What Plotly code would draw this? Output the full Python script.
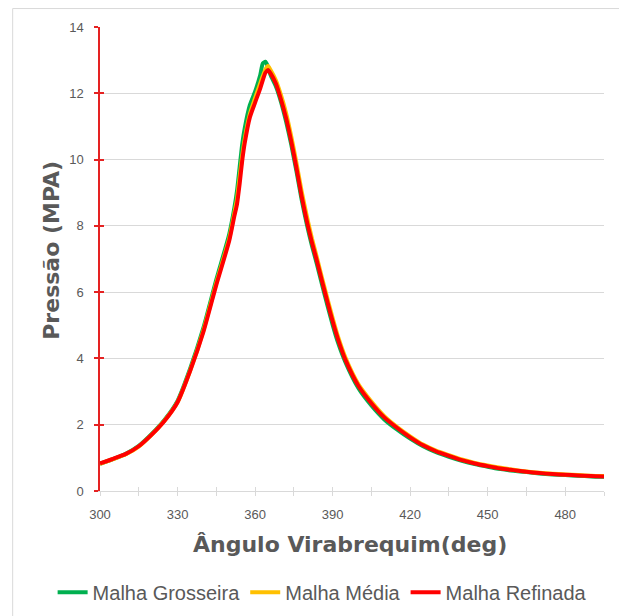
import plotly.graph_objects as go

# Crank angle (degrees) at which pressure was sampled
angle = [300, 305, 310, 315, 320, 325, 330, 335, 340, 345, 350, 352, 353, 354, 355,
         356, 358, 360, 362, 363, 364, 365, 366, 368, 370, 372, 374, 376, 378, 380,
         382, 384, 386, 388, 390, 392, 395, 400, 405, 410, 415, 420, 425, 430, 435,
         440, 445, 450, 455, 460, 465, 470, 475, 480, 485, 490, 495]

# Cylinder pressure (MPa) for each mesh refinement level
p_grosseira = [0.82, 0.96, 1.12, 1.36, 1.72, 2.15, 2.72, 3.72, 4.92, 6.38, 7.75, 8.55, 9.05, 9.75, 10.45,
               10.95, 11.65, 12.05, 12.55, 12.90, 12.95, 12.80, 12.55, 12.22, 11.75, 11.15, 10.45, 9.65, 8.80, 8.05,
               7.40, 6.82, 6.20, 5.60, 5.02, 4.50, 3.88, 3.10, 2.58, 2.16, 1.85, 1.58, 1.35, 1.17, 1.03,
               0.91, 0.81, 0.73, 0.66, 0.61, 0.57, 0.53, 0.50, 0.48, 0.46, 0.44, 0.43]

p_media = [0.82, 0.96, 1.11, 1.34, 1.70, 2.13, 2.68, 3.66, 4.84, 6.28, 7.62, 8.40, 8.80, 9.45, 10.10,
           10.62, 11.38, 11.85, 12.30, 12.52, 12.72, 12.82, 12.70, 12.40, 11.95, 11.40, 10.70, 9.90, 9.05, 8.30,
           7.62, 7.02, 6.40, 5.80, 5.22, 4.68, 4.02, 3.22, 2.70, 2.26, 1.93, 1.65, 1.40, 1.22, 1.08,
           0.95, 0.85, 0.77, 0.70, 0.64, 0.59, 0.55, 0.52, 0.50, 0.48, 0.46, 0.45]

p_refinada = [0.83, 0.97, 1.12, 1.35, 1.70, 2.12, 2.68, 3.65, 4.80, 6.22, 7.55, 8.30, 8.65, 9.25, 9.95,
              10.50, 11.28, 11.72, 12.15, 12.40, 12.62, 12.70, 12.60, 12.30, 11.82, 11.25, 10.55, 9.75, 8.90, 8.15,
              7.50, 6.92, 6.30, 5.70, 5.12, 4.60, 3.95, 3.17, 2.65, 2.22, 1.90, 1.62, 1.38, 1.20, 1.06,
              0.93, 0.83, 0.75, 0.68, 0.63, 0.58, 0.54, 0.51, 0.49, 0.47, 0.45, 0.44]

series_names = ["Malha Grosseira", "Malha Média", "Malha Refinada"]
series_values = [p_grosseira, p_media, p_refinada]
series_colors = ["#00B050", "#FFC000", "#FF0000"]

x_range = [300, 495]
y_range = [0, 14]
x_tick_labels = [300, 330, 360, 390, 420, 450, 480]

TEXT = "#595959"
GRID = "#D9D9D9"
AXIS_RED = "#E52222"
TICK_FONT = dict(family="Liberation Sans, Arial, sans-serif", size=13, color=TEXT)
TITLE_FONT = dict(family="DejaVu Sans, Verdana, sans-serif", size=22, color=TEXT, weight="bold")

fig = go.Figure()

for name, values, color in zip(series_names, series_values, series_colors):
    fig.add_trace(go.Scatter(
        x=angle, y=values, name=name, mode="lines",
        line=dict(color=color, width=4, shape="spline", smoothing=0.6),
    ))

# empty trace that anchors the overlay axes used for the inward half of the crossing ticks
fig.add_trace(go.Scatter(x=[], y=[], xaxis="x2", yaxis="y2", showlegend=False, hoverinfo="skip"))

fig.update_layout(
    width=619, height=616,
    margin=dict(l=99.5, r=14.5, t=26.5, b=124.5, autoexpand=False),
    paper_bgcolor="white", plot_bgcolor="white",
    xaxis=dict(
        range=x_range, tickmode="array", tickvals=x_tick_labels,
        ticks="outside", ticklen=4, tickcolor=GRID, tickwidth=1,
        minor=dict(dtick=15, tick0=300, ticks="outside", ticklen=4, tickcolor=GRID, showgrid=False),
        showline=True, linecolor=GRID, linewidth=1,
        showgrid=False, zeroline=False,
        tickfont=TICK_FONT, ticklabelstandoff=7,
    ),
    xaxis2=dict(
        range=x_range, overlaying="x", anchor="y2", side="bottom",
        tickmode="linear", tick0=300, dtick=15,
        ticks="inside", ticklen=4, tickcolor=GRID, tickwidth=1,
        showticklabels=False, showgrid=False, showline=False, zeroline=False,
    ),
    yaxis=dict(
        range=y_range, dtick=2,
        ticks="outside", ticklen=4, tickcolor=AXIS_RED, tickwidth=1.5,
        showline=True, linecolor=AXIS_RED, linewidth=1.5,
        showgrid=True, gridcolor=GRID, gridwidth=1, zeroline=False,
        tickfont=TICK_FONT, ticklabelstandoff=8,
    ),
    yaxis2=dict(
        range=y_range, overlaying="y", anchor="x2", side="left",
        dtick=2, ticks="inside", ticklen=4, tickcolor=AXIS_RED, tickwidth=1.5,
        showticklabels=False, showgrid=False, showline=False, zeroline=False,
    ),
    legend=dict(
        orientation="h", x=-0.094, xanchor="left", y=-0.218, yanchor="middle",
        font=dict(family="Liberation Sans, Arial, sans-serif", size=20, color=TEXT),
        bgcolor="rgba(0,0,0,0)", itemwidth=30,
    ),
    annotations=[
        dict(text="Ângulo Virabrequim(deg)", xref="paper", yref="paper",
             x=0.497, y=-0.115, xanchor="center", yanchor="middle",
             showarrow=False, font=TITLE_FONT),
        dict(text="Pressão (MPA)", xref="paper", yref="paper",
             x=-0.095, y=0.518, xanchor="center", yanchor="middle", textangle=-90,
             showarrow=False, font=TITLE_FONT),
    ],
    shapes=[
        # chart area frame
        dict(type="rect", xref="paper", yref="paper",
             x0=-0.1733, y0=-0.5, x1=1.3, y1=1.0398,
             line=dict(color=GRID, width=1), fillcolor="rgba(0,0,0,0)", layer="below"),
    ],
    showlegend=True,
)

fig.write_html("out.html")
